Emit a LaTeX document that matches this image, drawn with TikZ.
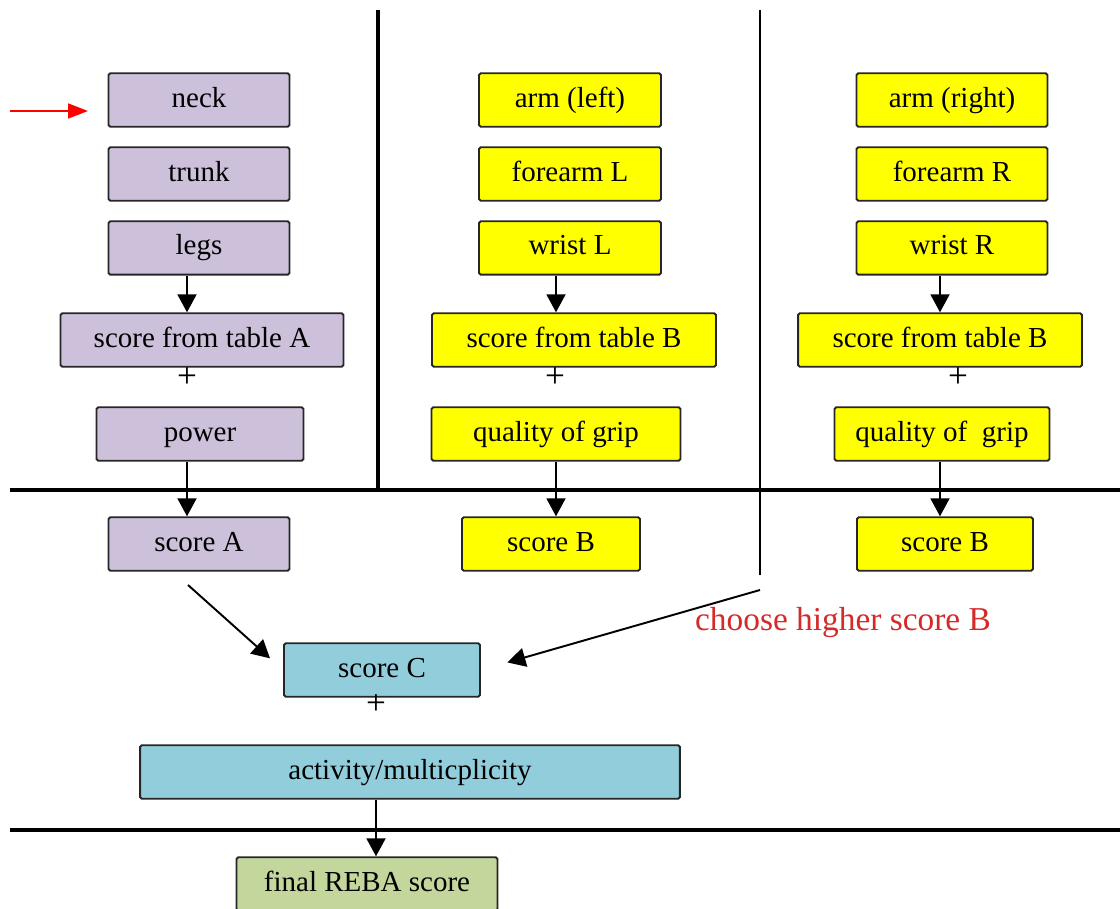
\documentclass[tikz,border=0pt]{standalone}
\usepackage{fontspec}
\setmainfont{Liberation Serif}
\usetikzlibrary{positioning, arrows.meta}

\definecolor{lilac}{HTML}{CCC0DA}
\definecolor{yell}{HTML}{FFFF00}
\definecolor{cyanbox}{HTML}{92CDDC}
\definecolor{greenbox}{HTML}{C3D69B}
\definecolor{note}{HTML}{D42A2A}

\tikzset{
    box/.style={draw=black!85, line width=1.1pt, rounded corners=1pt, minimum height=1.07cm,
        inner sep=2pt, text height=11.6pt, text depth=3.6pt, font=\fontsize{16.5}{20}\selectfont},
    partA/.style={box, fill=lilac, minimum width=3.62cm},
    partB/.style={box, fill=yell, minimum width=3.64cm},
    partC/.style={box, fill=cyanbox},
    final/.style={box, fill=greenbox},
    plus/.style={inner sep=0pt, font=\fontsize{20}{20}\selectfont},
    flow/.style={-{Triangle[length=0.36cm, width=0.38cm]}, line width=1.1pt},
    divider/.style={line width=2.8pt},
}

\begin{document}
\begin{tikzpicture}[x=0.02cm, y=-0.02cm, node distance=1.48cm, on grid]
    \useasboundingbox (0,0) rectangle (1120,909);

    % group A
    \node[partA] (neck) at (199,100) {neck};
    \node[partA] (trunk) [below=of neck] {trunk};
    \node[partA] (legs) [below=of trunk] {legs};
    \node[partA, minimum width=5.66cm] (tabA) at (202,340) {score from table A};
    \node[plus] (plusA) at (187,378) {+};
    \node[partA, minimum width=4.14cm] (power) at (200,434) {power};
    \node[partA] (scoreA) at (199,544) {score A};

    % group B (left)
    \node[partB] (armL) at (570,100) {arm (left)};
    \node[partB] (forearmL) [below=of armL] {forearm L};
    \node[partB] (wristL) [below=of forearmL] {wrist L};
    \node[partB, minimum width=5.68cm] (tabBL) at (574,340) {score from table B};
    \node[plus] (plusBL) at (555,378) {+};
    \node[partB, minimum width=4.98cm] (gripL) at (556,434) {quality of grip};
    \node[partB, minimum width=3.56cm] (scoreBL) at (551,544) {score B};

    % group B (right)
    \node[partB, minimum width=3.82cm] (armR) at (952,100) {arm (right)};
    \node[partB, minimum width=3.82cm] (forearmR) [below=of armR] {forearm R};
    \node[partB, minimum width=3.82cm] (wristR) [below=of forearmR] {wrist R};
    \node[partB, minimum width=5.68cm] (tabBR) at (940,340) {score from table B};
    \node[plus] (plusBR) at (958,378) {+};
    \node[partB, minimum width=4.3cm] (gripR) at (942,434) {quality of~~grip};
    \node[partB, minimum width=3.52cm] (scoreBR) at (945,544) {score B};

    % group C
    \node[partC, minimum width=3.92cm] (scoreC) at (382,670) {score C};
    \node[plus] (plusC) at (376,705) {+};
    \node[partC, minimum width=10.8cm] (activity) at (410,772) {activity/multicplicity};
    \node[final, minimum width=5.22cm] (reba) at (367,884) {final REBA score};

    \node[text=note, font=\fontsize{19}{22}\selectfont] (choose) at (843,623) {choose higher score B};

    % dividers
    \draw[divider] (378,10) -- (378,490);
    \draw[line width=1.2pt] (760,10) -- (760,575);
    \draw[divider] (10,490) -- (1120,490);
    \draw[divider] (10,830) -- (1120,830);

    \coordinate (colA) at (187,0);
    \coordinate (colBL) at (556,0);
    \coordinate (colBR) at (940,0);
    \coordinate (colC) at (376,0);
    \coordinate (start) at (10,111);
    \coordinate (aTail) at (188,585);
    \coordinate (bTail) at (760,590);

    \draw[-{Triangle[length=0.4cm, width=0.3cm]}, red, line width=1pt] (start) -- ++(78,0);

    \draw[flow] (legs.south -| colA) -- (tabA.north -| colA);
    \draw[flow] (power.south -| colA) -- (scoreA.north -| colA);
    \draw[flow] (wristL.south -| colBL) -- (tabBL.north -| colBL);
    \draw[flow] (gripL.south -| colBL) -- (scoreBL.north -| colBL);
    \draw[flow] (wristR.south -| colBR) -- (tabBR.north -| colBR);
    \draw[flow] (gripR.south -| colBR) -- (scoreBR.north -| colBR);
    \draw[flow, shorten >=0.35cm] (aTail) -- (scoreC.west);
    \draw[flow, shorten >=0.55cm] (bTail) -- (scoreC.east);
    \draw[flow] (activity.south -| colC) -- (reba.north -| colC);
\end{tikzpicture}
\end{document}
